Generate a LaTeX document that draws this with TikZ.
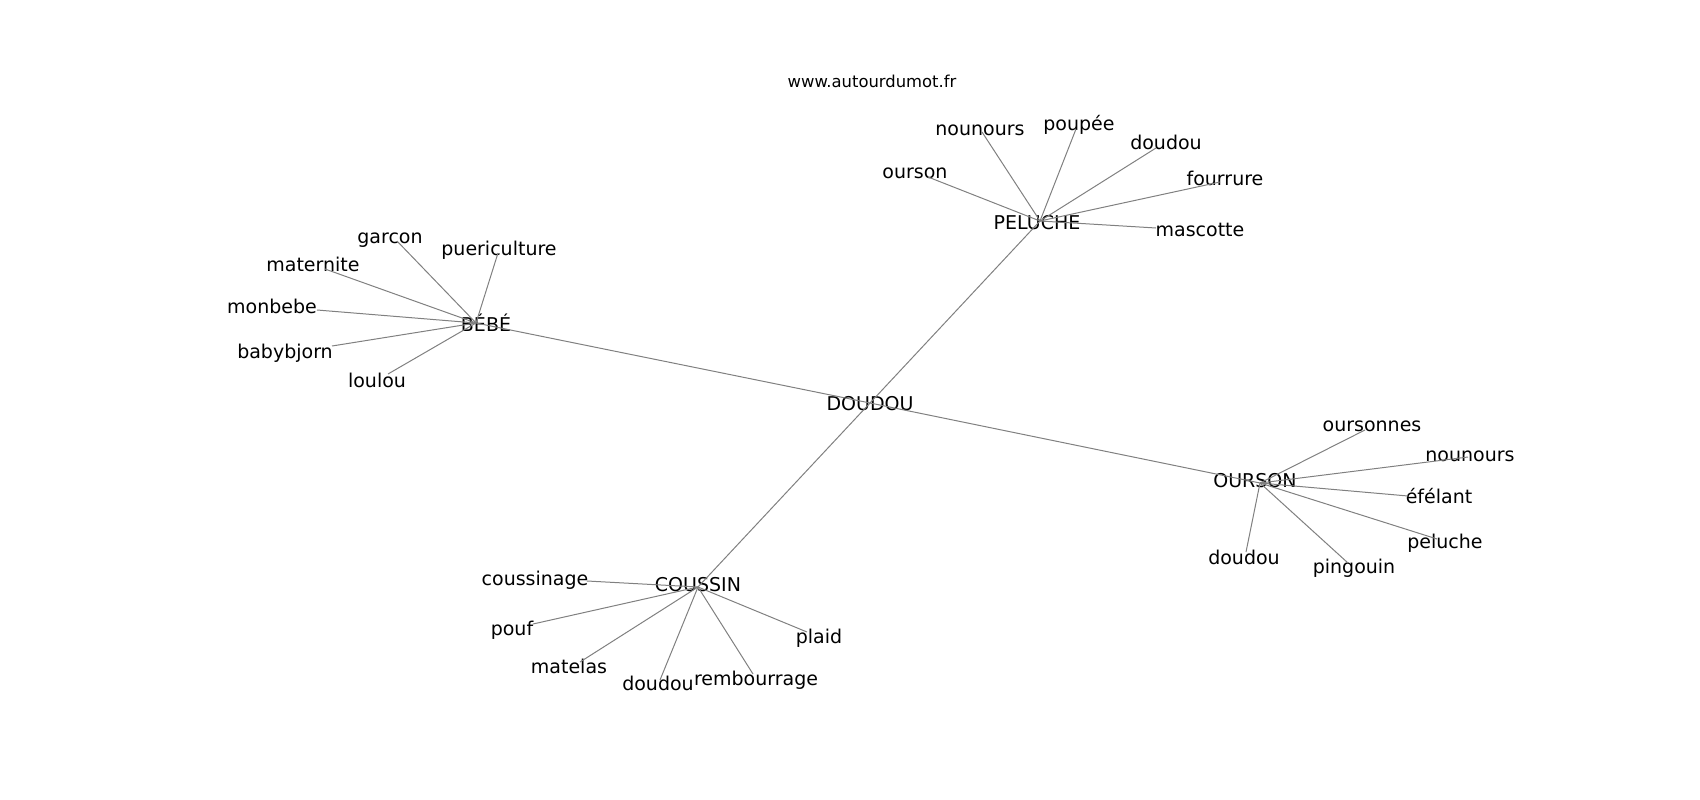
\documentclass[tikz,border=0pt]{standalone}
\usepackage{fontspec}
\setmainfont{DejaVu Sans}
\usepackage{tikz}

\begin{document}
\begin{tikzpicture}[
  x=1pt, y=-1pt,
  every node/.style={font=\fontsize{19}{22}\selectfont, inner sep=0pt},
  word/.style={anchor=base, yshift=-7pt},
  site/.style={anchor=base, yshift=-5pt, font=\fontsize{16.4}{19}\selectfont},
  edge/.style={draw=black!50, line width=1pt}
]
\useasboundingbox (0,0) rectangle (1700,800);

\node[site] (Site) at (872,83) {www.autourdumot.fr};

% hubs
\coordinate (vDoudou) at (870,403);
\coordinate (vBebe) at (476,323);
\coordinate (vPeluche) at (1040,221);
\coordinate (vOurson) at (1260,483);
\coordinate (vCoussin) at (698,587);
\node[word] (Doudou) at (870,403) {DOUDOU};
\node[word] (Bebe) at (486,324) {BÉBÉ};
\node[word] (Peluche) at (1037,222) {PELUCHE};
\node[word] (Ourson) at (1255,480) {OURSON};
\node[word] (Coussin) at (698,584) {COUSSIN};

% around BÉBÉ
\coordinate (vGarcon) at (397,241);
\coordinate (vPueri) at (498,253);
\coordinate (vMater) at (325,269);
\coordinate (vMonbebe) at (317,310);
\coordinate (vBabyb) at (332,346);
\coordinate (vLoulou) at (388,374);
\node[word] (Garcon) at (390,236) {garcon};
\node[word] (Pueri) at (499,248) {puericulture};
\node[word] (Mater) at (313,264) {maternite};
\node[word] (Monbebe) at (272,306) {monbebe};
\node[word] (Babyb) at (285,351) {babybjorn};
\node[word] (Loulou) at (377,380) {loulou};

% around PELUCHE
\coordinate (vNounoursP) at (982,132);
\coordinate (vPoupee) at (1076,129);
\coordinate (vDoudouP) at (1156,148);
\coordinate (vOursonP) at (928,177);
\coordinate (vFourrure) at (1220,182);
\coordinate (vMascotte) at (1156,228);
\node[word] (NounoursP) at (980,128) {nounours};
\node[word] (Poupee) at (1079,123) {poupée};
\node[word] (DoudouP) at (1166,142) {doudou};
\node[word] (OursonP) at (915,171) {ourson};
\node[word] (Fourrure) at (1225,178) {fourrure};
\node[word] (Mascotte) at (1200,229) {mascotte};

% around OURSON
\coordinate (vOursonnes) at (1365,430);
\coordinate (vNounoursO) at (1468,457);
\coordinate (vEfelant) at (1408,496);
\coordinate (vPelucheO) at (1437,539);
\coordinate (vDoudouO) at (1246,552);
\coordinate (vPingouin) at (1348,563);
\node[word] (Oursonnes) at (1372,424) {oursonnes};
\node[word] (NounoursO) at (1470,454) {nounours};
\node[word] (Efelant) at (1439,496) {éfélant};
\node[word] (PelucheO) at (1445,541) {peluche};
\node[word] (DoudouO) at (1244,557) {doudou};
\node[word] (Pingouin) at (1354,566) {pingouin};

% around COUSSIN
\coordinate (vCoussinage) at (587,581);
\coordinate (vPouf) at (533,624);
\coordinate (vMatelas) at (580,662);
\coordinate (vDoudouC) at (660,680);
\coordinate (vRembour) at (753,674);
\coordinate (vPlaid) at (807,632);
\node[word] (Coussinage) at (535,578) {coussinage};
\node[word] (Pouf) at (512,628) {pouf};
\node[word] (Matelas) at (569,666) {matelas};
\node[word] (DoudouC) at (658,683) {doudou};
\node[word] (Rembour) at (756,678) {rembourrage};
\node[word] (Plaid) at (819,636) {plaid};

\draw[edge] (vDoudou) -- (vBebe);
\draw[edge] (vDoudou) -- (vPeluche);
\draw[edge] (vDoudou) -- (vOurson);
\draw[edge] (vDoudou) -- (vCoussin);

\draw[edge] (vBebe) -- (vGarcon);
\draw[edge] (vBebe) -- (vPueri);
\draw[edge] (vBebe) -- (vMater);
\draw[edge] (vBebe) -- (vMonbebe);
\draw[edge] (vBebe) -- (vBabyb);
\draw[edge] (vBebe) -- (vLoulou);

\draw[edge] (vPeluche) -- (vNounoursP);
\draw[edge] (vPeluche) -- (vPoupee);
\draw[edge] (vPeluche) -- (vDoudouP);
\draw[edge] (vPeluche) -- (vOursonP);
\draw[edge] (vPeluche) -- (vFourrure);
\draw[edge] (vPeluche) -- (vMascotte);

\draw[edge] (vOurson) -- (vOursonnes);
\draw[edge] (vOurson) -- (vNounoursO);
\draw[edge] (vOurson) -- (vEfelant);
\draw[edge] (vOurson) -- (vPelucheO);
\draw[edge] (vOurson) -- (vDoudouO);
\draw[edge] (vOurson) -- (vPingouin);

\draw[edge] (vCoussin) -- (vCoussinage);
\draw[edge] (vCoussin) -- (vPouf);
\draw[edge] (vCoussin) -- (vMatelas);
\draw[edge] (vCoussin) -- (vDoudouC);
\draw[edge] (vCoussin) -- (vRembour);
\draw[edge] (vCoussin) -- (vPlaid);

\end{tikzpicture}
\end{document}
